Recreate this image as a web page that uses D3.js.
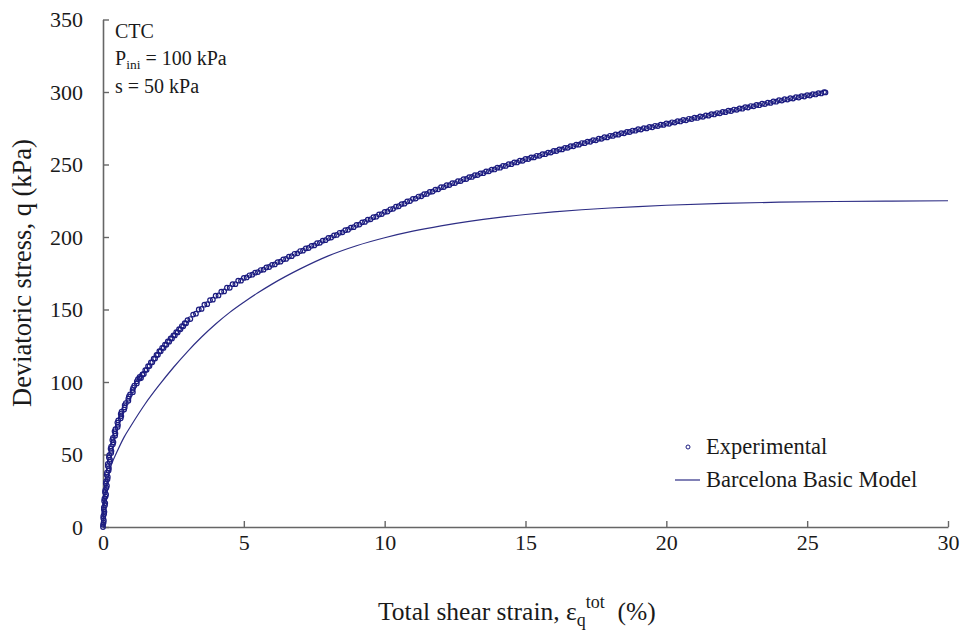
<!DOCTYPE html>
<html>
<head>
<meta charset="utf-8">
<script src="https://cdn.jsdelivr.net/npm/d3@7"></script>
<style>
  body { margin: 0; background: #fff; }
  svg { display: block; }
</style>
</head>
<body>
<svg id="chart" width="962" height="631"></svg>
<script>
// Axis ticks
const xTicks = [0, 5, 10, 15, 20, 25, 30];
const yTicks = [0, 50, 100, 150, 200, 250, 300, 350];

// Test conditions printed in the corner
const testType = "CTC";
const initialPressure = "100 kPa";
const suction = "50 kPa";

// Legend entries
const legendLabels = ["Experimental", "Barcelona Basic Model"];

// Experimental CTC test: [total shear strain (%), deviatoric stress q (kPa)]
const experimental = [
  [0,0],[0.02,3],[0.01,6],[0.04,9],[0.03,12],[0.07,15],[0.04,18],[0.09,21],[0.07,24],[0.12,27],
  [0.1,30],[0.16,33],[0.13,36],[0.2,39],[0.17,42],[0.24,45],[0.21,48],[0.29,51],[0.27,54],[0.35,57],
  [0.33,60],[0.43,63],[0.41,66],[0.52,69],[0.51,72],[0.63,75],[0.63,78],[0.75,81],[0.77,84],[0.9,87],
  [0.92,90],[1.06,93],[1.07,96],[1.2,99],[1.24,102],[1.4,105],
  [0,1.5],[0.03,4.5],[0.01,7.5],[0.05,10.5],[0.03,13.5],[0.08,16.5],[0.05,19.5],[0.11,22.5],[0.08,25.5],[0.14,28.5],
  [0.11,31.5],[0.17,34.5],[0.14,37.5],[0.21,40.5],[0.17,43.5],[0.25,46.5],[0.22,49.5],[0.3,52.5],[0.29,55.5],[0.37,58.5],
  [0.35,61.5],[0.44,64.5],[0.44,67.5],[0.53,70.5],[0.54,73.5],[0.65,76.5],[0.66,79.5],[0.77,82.5],[0.81,85.5],[0.9,88.5],
  [0.96,91.5],[1.05,94.5],[1.11,97.5],[1.2,100.5],[1.3,103.5],
  [1.3,102.5],[1.35,102.7],[1.4,105.3],[1.45,105.6],[1.5,108.2],[1.55,108.4],[1.6,110.9],[1.65,111.0],[1.7,113.5],[1.75,113.6],
  [1.8,116.1],[1.85,116.2],[1.9,118.7],[1.95,118.8],[2.0,121.2],[2.05,121.2],[2.1,123.6],[2.15,123.5],[2.2,125.8],[2.25,125.7],
  [2.3,128.0],[2.35,127.8],[2.4,130.1],[2.45,130.0],[2.5,132.2],[2.55,132.1],[2.6,134.4],[2.65,134.2],[2.7,136.5],[2.75,136.3],
  [2.8,138.6],[2.85,138.4],[2.9,140.6],[2.95,140.5],[3.0,142.7],[3.1,143.4],[3.2,146.5],[3.3,147.1],[3.4,150.0],[3.5,150.4],
  [3.6,153.3],[3.7,153.7],[3.8,156.5],[3.9,156.8],[4.0,159.5],[4.1,159.7],[4.2,162.3],[4.3,162.5],[4.4,165.0],[4.5,165.0],
  [4.6,167.5],[4.7,167.5],[4.8,169.9],[4.9,169.9],
  [5.0,171.8],[5.1,172.1],[5.2,173.6],[5.3,174.0],[5.4,175.4],[5.5,175.8],[5.6,177.2],[5.7,177.5],[5.8,179.0],[5.9,179.3],
  [6.0,180.8],[6.1,181.1],[6.2,182.7],[6.3,183.0],[6.4,184.6],[6.5,184.9],[6.6,186.5],[6.7,186.8],[6.8,188.4],[6.9,188.7],
  [7.0,190.3],[7.1,190.6],[7.2,192.1],[7.3,192.4],[7.4,193.9],[7.5,194.2],[7.6,195.7],[7.7,196.0],[7.8,197.5],[7.9,197.8],
  [8.0,199.3],[8.1,199.6],[8.2,201.1],[8.3,201.4],[8.4,202.9],[8.5,203.2],[8.6,204.7],[8.7,205.0],[8.8,206.5],[8.9,206.8],
  [9.0,208.3],[9.1,208.6],[9.2,210.1],[9.3,210.4],[9.4,211.9],[9.5,212.2],[9.6,213.7],[9.7,214.0],[9.8,215.5],[9.9,215.8],
  [10.0,217.3],[10.1,217.6],[10.2,219.1],[10.3,219.4],[10.4,220.9],[10.5,221.2],[10.6,222.7],[10.7,223.0],[10.8,224.5],[10.9,224.8],
  [11.0,226.3],[11.1,226.5],[11.2,227.9],[11.3,228.1],[11.4,229.5],[11.5,229.7],[11.6,231.1],[11.7,231.3],[11.8,232.7],[11.9,232.9],
  [12.0,234.3],[12.1,234.4],[12.2,235.7],[12.3,235.8],[12.4,237.1],[12.5,237.2],[12.6,238.5],[12.7,238.6],[12.8,239.9],[12.9,240.0],
  [13.0,241.3],[13.1,241.4],[13.2,242.6],[13.3,242.7],[13.4,243.9],[13.5,244.0],[13.6,245.2],[13.7,245.3],[13.8,246.5],[13.9,246.6],
  [14.0,247.8],[14.1,247.8],[14.2,249.0],[14.3,249.0],[14.4,250.2],[14.5,250.2],[14.6,251.4],[14.7,251.4],[14.8,252.6],[14.9,252.6],
  [15.0,253.8],[15.1,253.8],[15.2,254.9],[15.3,254.9],[15.4,256.0],[15.5,256.0],[15.6,257.1],[15.7,257.1],[15.8,258.2],[15.9,258.2],
  [16.0,259.3],[16.1,259.3],[16.2,260.4],[16.3,260.4],[16.4,261.5],[16.5,261.5],[16.6,262.6],[16.7,262.6],[16.8,263.7],[16.9,263.7],
  [17.0,264.8],[17.1,264.7],[17.2,265.8],[17.3,265.7],[17.4,266.8],[17.5,266.7],[17.6,267.8],[17.7,267.7],[17.8,268.8],[17.9,268.7],
  [18.0,269.8],[18.1,269.7],[18.2,270.7],[18.3,270.6],[18.4,271.6],[18.5,271.5],[18.6,272.5],[18.7,272.4],[18.8,273.4],[18.9,273.3],
  [19.0,274.3],[19.1,274.1],[19.2,275.1],[19.3,274.9],[19.4,275.9],[19.5,275.7],[19.6,276.7],[19.7,276.5],[19.8,277.5],[19.9,277.3],
  [20.0,278.3],[20.1,278.1],[20.2,279.1],[20.3,278.9],[20.4,279.9],[20.5,279.7],[20.6,280.7],[20.7,280.5],[20.8,281.5],[20.9,281.3],
  [21.0,282.3],[21.1,282.1],[21.2,283.1],[21.3,282.9],[21.4,283.9],[21.5,283.7],[21.6,284.7],[21.7,284.5],[21.8,285.5],[21.9,285.3],
  [22.0,286.3],[22.1,286.1],[22.2,287.1],[22.3,286.9],[22.4,287.9],[22.5,287.7],[22.6,288.7],[22.7,288.5],[22.8,289.5],[22.9,289.3],
  [23.0,290.3],[23.1,290.1],[23.2,291.1],[23.3,290.9],[23.4,291.9],[23.5,291.7],[23.6,292.7],[23.7,292.5],[23.8,293.5],[23.9,293.3],
  [24.0,294.3],[24.1,294.1],[24.2,295.0],[24.3,294.8],[24.4,295.7],[24.5,295.5],[24.6,296.4],[24.7,296.2],[24.8,297.1],[24.9,296.9],
  [25.0,297.8],[25.1,297.6],[25.2,298.5],[25.3,298.3],[25.4,299.2],[25.5,299.0],[25.6,299.9],[25.65,299.7]
];

// Barcelona Basic Model prediction: [strain (%), q (kPa)]
const bbm = [
  [0,0],[0.05,17],[0.1,26],[0.2,36],[0.3,43],[0.5,52],[0.75,62],[1.0,70],[1.5,85],[2.0,98],
  [2.5,110],[3.0,121],[3.5,131],[4.0,140],[4.5,148],[5.0,155],[5.5,161.5],[6.0,167.5],[7.0,178],[8.0,187],
  [9.0,194],[10.0,199.5],[11.0,204],[12.0,207.7],[13.0,210.8],[14.0,213.4],[15.0,215.5],[16.0,217.3],
  [17.0,218.8],[18.0,220],[19.0,221],[20.0,221.9],[22.0,223.2],[24.0,224],[26.0,224.5],[28.0,224.8],[30.0,225]
];

const FONT = "'Liberation Serif', 'Times New Roman', serif";
const INK = "#1a1a1a";
const NAVY = "#1c1c80";
const MODEL = "#2e2e85";
const AXIS = "#666";

const svg = d3.select("#chart");

const x = d3.scaleLinear().domain([0, 30]).range([103, 948]);
const y = d3.scaleLinear().domain([0, 350]).range([527, 19.5]);

// x axis with ticks pointing into the plot
const gx = svg.append("g")
  .attr("transform", `translate(0,${y(0)})`)
  .call(d3.axisBottom(x).tickValues(xTicks).tickSize(-6).tickSizeOuter(0).tickPadding(7));

// y axis with ticks pointing into the plot
const gy = svg.append("g")
  .attr("transform", `translate(${x(0)},0)`)
  .call(d3.axisLeft(y).tickValues(yTicks).tickSize(-6).tickSizeOuter(0).tickPadding(20));

[gx, gy].forEach(g => {
  g.select(".domain").attr("stroke", AXIS).attr("stroke-width", 1.6);
  g.selectAll(".tick line").attr("stroke", AXIS).attr("stroke-width", 1.4);
  g.selectAll(".tick text")
    .attr("font-family", FONT).attr("font-size", 22).attr("fill", INK);
});

// Model curve
svg.append("path")
  .datum(bbm)
  .attr("fill", "none")
  .attr("stroke", MODEL)
  .attr("stroke-width", 1.2)
  .attr("d", d3.line().x(d => x(d[0])).y(d => y(d[1])).curve(d3.curveMonotoneX));

// Experimental points as open circles
svg.append("g")
  .selectAll("circle")
  .data(experimental)
  .join("circle")
  .attr("cx", d => x(d[0]))
  .attr("cy", d => y(d[1]))
  .attr("r", 2.3)
  .attr("fill", "none")
  .attr("stroke", NAVY)
  .attr("stroke-width", 1.2);

// Test conditions
const note = svg.append("g")
  .attr("font-family", FONT).attr("font-size", 20).attr("fill", INK);
note.append("text").attr("x", 115).attr("y", 38).text(testType);
const p = note.append("text").attr("x", 115).attr("y", 65);
p.append("tspan").text("P");
p.append("tspan").attr("font-size", 13.5).attr("dy", 4).text("ini");
p.append("tspan").attr("dy", -4).text(" = " + initialPressure);
note.append("text").attr("x", 115).attr("y", 93).text("s = " + suction);

// Legend
const legend = svg.append("g")
  .attr("font-family", FONT).attr("font-size", 22.5).attr("fill", INK);
legend.append("circle")
  .attr("cx", 688).attr("cy", 447).attr("r", 2)
  .attr("fill", "none").attr("stroke", NAVY).attr("stroke-width", 1);
legend.append("text").attr("x", 706).attr("y", 454).text(legendLabels[0]);
legend.append("line")
  .attr("x1", 675).attr("x2", 700).attr("y1", 480).attr("y2", 480)
  .attr("stroke", MODEL).attr("stroke-width", 1.2);
legend.append("text").attr("x", 706).attr("y", 487).text(legendLabels[1]);

// Axis titles
const xt = svg.append("text")
  .attr("x", 378).attr("y", 620)
  .attr("font-family", FONT).attr("font-size", 25.5).attr("fill", INK);
xt.append("tspan").text("Total shear strain, \u03b5");
xt.append("tspan").attr("font-size", 18).attr("dy", 6).text("q");
xt.append("tspan").attr("font-size", 18).attr("dy", -18).text("tot");
xt.append("tspan").attr("dy", 12).text("\u00a0 (%)");

svg.append("text")
  .attr("transform", `translate(31,273) rotate(-90)`)
  .attr("text-anchor", "middle")
  .attr("font-family", FONT).attr("font-size", 26.5).attr("fill", INK)
  .text("Deviatoric stress, q (kPa)");
</script>
</body>
</html>
